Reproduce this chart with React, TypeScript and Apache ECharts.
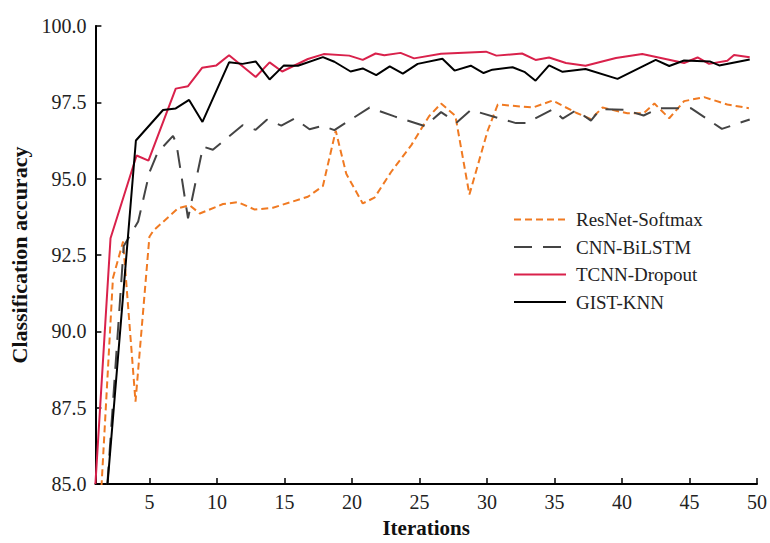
import React, { useEffect, useRef } from "react";
import * as echarts from "echarts";

const seriesNames = ["ResNet-Softmax", "CNN-BiLSTM", "TCNN-Dropout", "GIST-KNN"];

const resnetX = [1, 2.3, 3.05, 3.97, 5.0, 5.3, 7.12, 7.99, 8.73, 10.45, 11.56, 12.8, 14.15, 16.74, 17.85, 18.8, 19.58, 20.8, 21.67, 22.9, 24.4, 25.7, 26.6, 27.66, 28.7, 30.05, 30.8, 33.4, 34.86, 36.6, 37.7, 38.56, 40.4, 41.6, 42.4, 43.5, 44.6, 46.08, 47.8, 49.4];
const resnetY = [81.3, 91.75, 92.94, 87.7, 93.1, 93.3, 94.03, 94.13, 93.86, 94.17, 94.23, 93.99, 94.05, 94.41, 94.76, 96.57, 95.16, 94.19, 94.38, 95.22, 96.1, 97.04, 97.46, 97.06, 94.48, 96.57, 97.43, 97.33, 97.56, 97.16, 96.95, 97.33, 97.14, 97.14, 97.46, 96.98, 97.54, 97.67, 97.43, 97.31];

const bilstmX = [1, 3.1, 4.17, 5.0, 5.6, 6.75, 7.0, 7.86, 8.97, 9.7, 11.9, 12.87, 13.7, 14.77, 15.75, 16.86, 17.85, 18.7, 21.3, 23.15, 25.4, 26.6, 27.76, 28.8, 32.15, 32.9, 34.86, 35.6, 36.6, 37.7, 38.4, 40.16, 41.6, 42.75, 45.1, 47.4, 49.46];
const bilstmY = [79.3, 92.8, 93.6, 95.2, 95.85, 96.4, 96.15, 93.7, 96.05, 95.95, 96.75, 96.6, 96.93, 96.74, 96.97, 96.62, 96.73, 96.59, 97.33, 97.04, 96.72, 97.18, 96.84, 97.25, 96.82, 96.82, 97.27, 96.97, 97.24, 96.9, 97.28, 97.26, 97.07, 97.31, 97.31, 96.63, 96.94];

const tcnnX = [1, 2.12, 4.05, 4.93, 6.95, 7.86, 8.9, 9.96, 10.9, 12.87, 13.9, 14.83, 16.74, 17.91, 19.8, 20.8, 21.75, 22.4, 23.6, 24.6, 26.6, 29.93, 30.7, 32.6, 33.6, 34.6, 35.85, 37.3, 39.55, 41.5, 44.6, 45.6, 46.45, 47.8, 48.3, 49.46];
const tcnnY = [85.0, 93.05, 95.76, 95.59, 97.95, 98.03, 98.63, 98.71, 99.04, 98.33, 98.81, 98.51, 98.92, 99.08, 99.03, 98.89, 99.1, 99.04, 99.12, 98.94, 99.09, 99.16, 99.03, 99.1, 98.89, 98.97, 98.79, 98.7, 98.95, 99.08, 98.79, 98.97, 98.76, 98.86, 99.05, 98.98];

const gistX = [1, 4.0, 6.01, 6.95, 7.94, 8.93, 10.9, 11.9, 12.87, 13.9, 14.96, 16.0, 17.85, 18.7, 19.9, 20.8, 21.8, 22.8, 23.77, 24.87, 26.7, 27.6, 28.8, 29.75, 30.4, 31.9, 32.77, 33.6, 34.6, 35.6, 37.3, 39.67, 42.5, 43.5, 44.6, 46.5, 47.2, 49.46];
const gistY = [80.2, 96.25, 97.25, 97.3, 97.58, 96.86, 98.81, 98.76, 98.84, 98.25, 98.71, 98.7, 98.98, 98.83, 98.51, 98.61, 98.39, 98.68, 98.44, 98.76, 98.93, 98.54, 98.7, 98.46, 98.57, 98.65, 98.5, 98.21, 98.71, 98.5, 98.59, 98.27, 98.89, 98.69, 98.87, 98.84, 98.71, 98.9];

const xTicks = [5, 10, 15, 20, 25, 30, 35, 40, 45, 50];

const FONT = "'Liberation Serif', 'Times New Roman', serif";

function pairs(xs: number[], ys: number[]) {
  return xs.map((x, i) => [x, ys[i]]);
}

export default function App() {
  const ref = useRef<HTMLDivElement>(null);
  useEffect(() => {
    if (!ref.current) return;
    const chart = echarts.init(ref.current, undefined, { renderer: "svg" });
    const mk = (name: string, data: number[][], color: string, type: any, width: number) => ({
      name,
      type: "line",
      data,
      showSymbol: false,
      symbol: "none",
      clip: true,
      lineStyle: { color, width, type },
      itemStyle: { color },
    });
    chart.setOption({
      animation: false,
      backgroundColor: "#ffffff",
      grid: { left: 95.4, right: 10, top: 26, bottom: 55 },
      legend: {
        orient: "vertical",
        left: 508,
        top: 205,
        itemWidth: 52,
        itemHeight: 18,
        itemGap: 8.5,
        itemStyle: { opacity: 0 },
        textStyle: { fontFamily: FONT, fontSize: 19, color: "#222", padding: [0, 0, 0, 5] },
        data: seriesNames,
      },
      xAxis: {
        type: "value",
        min: 1,
        max: 50,
        name: "Iterations",
        nameLocation: "middle",
        nameGap: 32,
        nameTextStyle: { fontFamily: FONT, fontSize: 21, fontWeight: "bold", color: "#111" },
        axisLine: { show: true, onZero: false, lineStyle: { color: "#000", width: 2 } },
        axisTick: { show: true, inside: true, length: 6, customValues: xTicks, lineStyle: { color: "#000", width: 1.5 } },
        axisLabel: { customValues: xTicks, fontFamily: FONT, fontSize: 20, color: "#222", margin: 8 },
        splitLine: { show: false },
      },
      yAxis: {
        type: "value",
        min: 85,
        max: 100,
        interval: 2.5,
        name: "Classification accuracy",
        nameLocation: "middle",
        nameGap: 62,
        nameTextStyle: { fontFamily: FONT, fontSize: 22, fontWeight: "bold", color: "#111" },
        axisLine: { show: true, lineStyle: { color: "#000", width: 2 } },
        axisTick: { show: true, inside: true, length: 6, lineStyle: { color: "#000", width: 1.5 } },
        axisLabel: { formatter: (v: number) => v.toFixed(1), fontFamily: FONT, fontSize: 20, color: "#222", margin: 9 },
        splitLine: { show: false },
      },
      series: [
        mk(seriesNames[0], pairs(resnetX, resnetY), "#f07a22", [7, 4], 2),
        mk(seriesNames[1], pairs(bilstmX, bilstmY), "#444444", [18, 11], 2),
        mk(seriesNames[2], pairs(tcnnX, tcnnY), "#d9214b", "solid", 2),
        mk(seriesNames[3], pairs(gistX, gistY), "#000000", "solid", 2),
      ],
    });
    return () => chart.dispose();
  }, []);
  return <div ref={ref} style={{ width: 770, height: 543, position: "absolute", left: 0, top: 0 }} />;
}
